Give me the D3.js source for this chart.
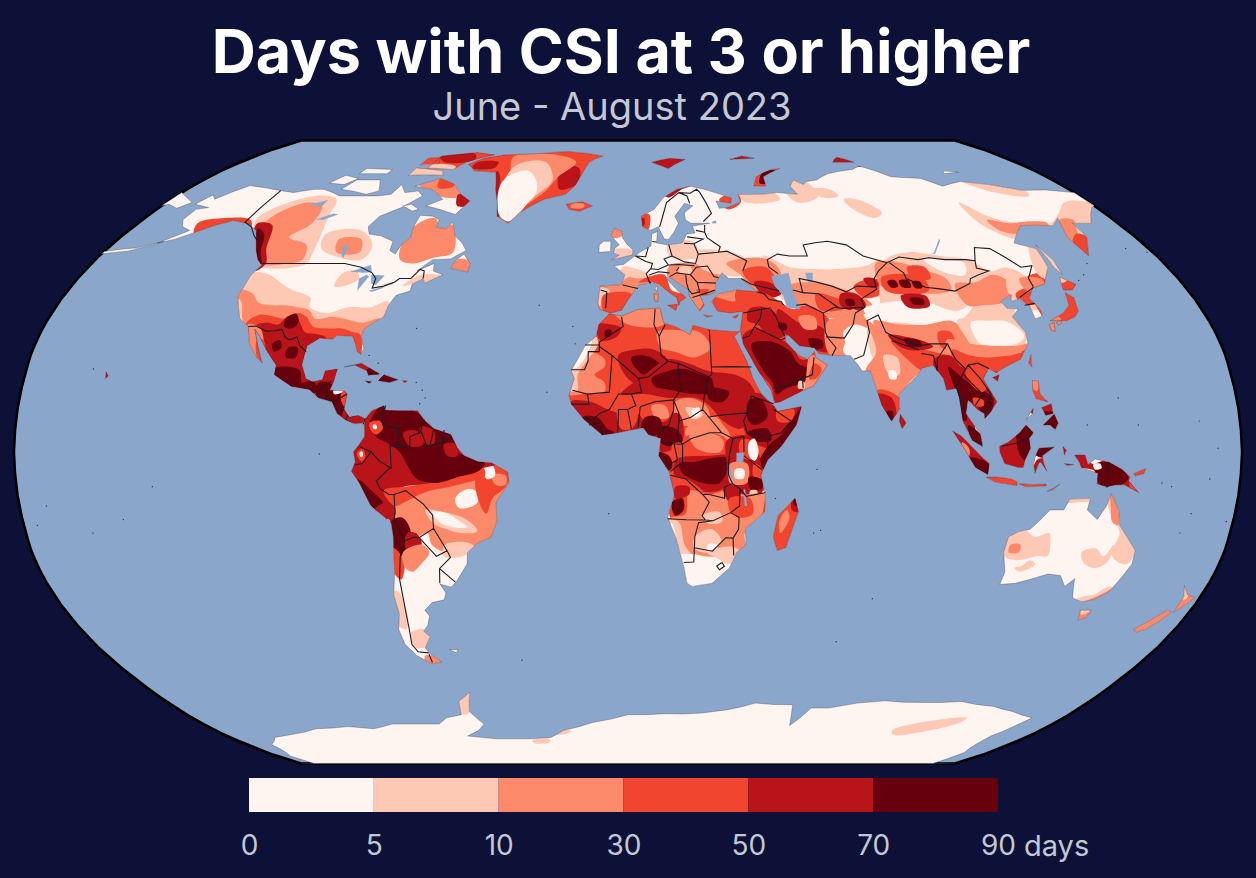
<!DOCTYPE html>
<html>
<head>
<meta charset="utf-8">
<style>
  html, body { margin: 0; background: #0d1137; }
  svg { display: block; }
  text { font-family: "Inter", sans-serif; }
</style>
<script src="https://cdn.jsdelivr.net/npm/d3@7"></script>
</head>
<body>
<svg id="map" width="1256" height="878"></svg>
<script>
// Legend classes
const binEdges = [0, 5, 10, 30, 50, 70, 90];
const binColors = ["#fff5f0", "#fec9b4", "#fc8a6a", "#f24530", "#b91419", "#67000d"];

// Robinson lookup table, every 5 degrees of latitude
const robinsonPlen = [1, .9986, .9954, .99, .9822, .973, .96, .9427, .9216, .8962, .8679, .835, .7986, .7597, .7186, .6732, .6213, .5722, .5322];
const robinsonPdfe = [0, .062, .124, .186, .248, .31, .372, .434, .4958, .5571, .6176, .6769, .7346, .7903, .8435, .8936, .9394, .9761, 1];

// Land outlines, [lon, lat]
const landOutlines = [
  // North and Central America
  [[-168,65.5],[-166,68.3],[-163,67],[-156.5,71.2],[-148,70.4],[-141,69.6],[-135,69],[-128,70],[-124,70],[-115,68],[-108,68],[-100,68],[-95,68.5],[-94,71.5],[-90,69],[-85,69.5],[-82,68],[-87,64.5],[-93,62],[-94.5,59],[-92.5,57],[-88,56.5],[-82.5,55],[-82,52.5],[-79.5,51.5],[-79,54],[-77,56],[-78,59],[-78,62.3],[-73,62],[-70,61],[-69.5,58.8],[-66,58.5],[-64.5,60.3],[-61.5,56.5],[-58,54.5],[-55.7,52.5],[-60,50.2],[-66,50],[-70,47],[-65,49],[-64.5,47],[-61,46],[-66,43.8],[-67,45],[-70,43.5],[-70,41.7],[-74,40.6],[-75.5,38],[-76,35],[-78,33.9],[-81,32],[-81.4,30],[-80,26.8],[-80.5,25.2],[-81.8,26],[-82.8,28],[-84,30],[-89,30.2],[-90,29.2],[-94,29.5],[-97.3,27.5],[-97.8,22.5],[-96,19],[-94,18.2],[-91,18.7],[-90.5,21],[-87,21.5],[-87.7,18],[-88.5,16],[-84,15.8],[-83.2,15],[-83.7,11],[-82,9],[-79.5,9.5],[-77.3,8.6],[-78.2,7.5],[-80.4,7.3],[-83,8.3],[-85.7,10],[-87.5,13],[-91.5,14],[-94.5,16.2],[-100,17],[-105.5,20],[-105.5,22.5],[-109,26],[-112.5,30],[-114.7,31.8],[-112,27],[-109.8,23],[-112,24.8],[-115,28],[-117,32.5],[-120.5,34.5],[-122.5,37.5],[-124.3,40.3],[-124,46],[-122.5,48.5],[-125,50],[-128,52.5],[-130.5,55],[-134,58],[-139,59.8],[-146,60.8],[-151,59.3],[-154,58],[-160,55.5],[-164.5,54.5],[-158,58],[-162,59],[-165,61],[-165,64],[-161,64.5]],
  // Arctic Canada
  [[-80,73.5],[-72,71.5],[-67,68.5],[-62,66.5],[-65,62.5],[-72,64],[-78,65],[-73,67],[-80,70],[-88,71]],
  [[-117,70],[-105,68.5],[-101,69.5],[-105,73],[-115,73]],
  [[-125,72],[-118,71.5],[-115,73.5],[-122,74.5]],
  [[-90,77],[-78,76.5],[-75,79],[-65,82],[-75,83],[-90,81.5]],
  [[-95,74.5],[-80,74.5],[-82,76],[-95,77]],
  [[-117,75],[-105,75],[-105,76.5],[-117,76.8]],
  [[-95,78],[-87,78.5],[-90,81],[-95,80.5]],
  [[-87,65],[-82,63.5],[-80,64],[-84,65.5]],
  [[-59,47.7],[-53,46.7],[-53,49],[-56,51.5],[-58,50]],
  // Greenland, Iceland
  [[-73,78.2],[-68,76],[-58,75.5],[-54,70],[-51,66],[-49,62],[-44,60],[-41,63],[-33,67],[-25,68.5],[-22,71],[-20,75],[-18,79],[-12,81.5],[-30,83.5],[-45,82.5],[-60,82],[-68,80.5]],
  [[-24,65.5],[-18,66.3],[-13.7,65],[-18.5,63.4],[-22.5,64]],
  // Caribbean, Hawaii, Aleutians
  [[-85,22],[-80,23],[-74.2,20.2],[-77.5,19.9],[-78,21],[-82,22.5]],
  [[-74.3,18.5],[-72.8,20],[-68.5,18.7],[-71,18]],
  [[-78.3,18.4],[-76.3,18.2],[-77,17.8]],
  [[-67.2,18.5],[-65.7,18.4],[-66.5,17.9]],
  [[-156,20.8],[-155,19.7],[-155.7,19]],
  [[-179.9,51.6],[-172,52.3],[-165,54.2],[-163,54.9],[-170,53.2],[-179.9,52.2]],
  [[-180,65],[-180,69],[-175,67.5],[-170,66],[-173,64.3],[-178,65.5]],
  // South America
  [[-77.3,8.6],[-75.5,10.7],[-72,12],[-71.5,10.8],[-68,10.7],[-62,10.7],[-60,8.3],[-57,6],[-52,4.5],[-50,1],[-48,-1],[-44,-2.5],[-40,-2.8],[-35.3,-5.2],[-35,-8],[-39,-13],[-39,-18],[-41,-22],[-45,-23.5],[-48.5,-26],[-49,-29],[-53,-33.5],[-55,-35],[-58.3,-34.2],[-57,-36.5],[-58,-38.3],[-62,-39],[-65,-41],[-64,-42.5],[-65.5,-45],[-67.5,-46.5],[-66,-48],[-69,-51],[-68.3,-52.5],[-65.2,-54.8],[-69,-55.3],[-73,-53],[-75.3,-50],[-75.5,-46],[-73.5,-42],[-73.5,-37],[-71.5,-31],[-70.3,-22],[-70.5,-18.3],[-76,-14],[-79,-8],[-81.2,-5],[-80,-2.5],[-80.5,0],[-78.8,2],[-77.3,4],[-77.5,7]],
  [[-61,-51.5],[-58,-51.4],[-59,-52.2]],
  // Africa
  [[-5.9,35.8],[-2,35.2],[3,36.9],[10,37.3],[11,33.5],[15,32.3],[19,30.4],[20,32.8],[25,31.7],[32,31.2],[34.2,31.2],[32.5,29.9],[35.5,24],[37.3,19],[39.5,15],[43.2,11.8],[44,10.5],[51.2,11.8],[49.5,7],[45,1.5],[41,-2],[39,-6],[40.5,-11],[40.5,-15.5],[35,-20],[35.5,-24],[32.8,-26],[31,-30],[26,-34],[20,-34.8],[18.3,-34],[17,-29.5],[14.5,-22.5],[11.8,-17],[13.7,-11],[12,-5],[9,-1],[9.7,3.5],[6,4.5],[4.5,6.3],[-3,5],[-7.5,4.4],[-13,8.5],[-16.8,12.5],[-17.5,14.7],[-16,19],[-17,21],[-13,27.5],[-9.7,30],[-9,33]],
  [[49.3,-12],[50.5,-15.5],[47.5,-24.8],[45,-25.5],[43.5,-22],[44.5,-16.5]],
  // Eurasia
  [[-9,37],[-9.5,38.8],[-9,43],[-2,43.4],[-1,46],[-4.7,48.4],[-1.5,48.7],[1.5,50.5],[4,52],[8,53.7],[8.5,57],[10.6,57.7],[10,54.5],[14,54],[19,54.5],[21,57],[24,57.3],[23.5,59.2],[30,60],[23,60],[21.3,61],[21.3,63],[25,65],[22,65.8],[17.5,62],[18.5,60],[16.5,57.5],[14.3,55.5],[12.8,55.6],[11,59],[8,58],[5.3,59],[5,62],[10,64],[14,67.5],[20,70],[25.8,71],[31,70],[41,67.3],[40,65.8],[34.5,66.5],[35,64.3],[38,64.5],[40,65],[44,66.2],[44,68.4],[54,68.5],[60,69],[68,68.5],[67,71],[70,73],[73,71.5],[75,72.5],[80,73],[87,75],[100,76.5],[105,77.7],[113,74],[125,73.5],[130,71],[140,72.5],[150,71.5],[160,69.7],[170,69.8],[179.9,69],[179.9,65],[178,64.5],[170,60],[163,60],[163,58],[162.5,56],[156.8,51],[155.7,56],[160,61.5],[155,59.3],[143,59.3],[135,54.5],[141,53],[140,48],[135,43.5],[130.5,42.5],[127.5,39.8],[129.3,37],[129,35.2],[126.4,34.5],[126.5,37.5],[124.5,39.8],[121.5,39],[122,40.7],[118,39],[119,37.2],[122.5,37],[119.5,35],[121.8,31],[121.5,28],[118,24],[113,22],[110,20.5],[108,21.6],[105.8,19],[109,13],[107,10.5],[105,8.7],[105,10],[103,11],[100.5,13.5],[99.5,10],[103.5,4.5],[104,1.4],[101,3],[98.5,8],[98,14],[97.5,16.5],[94.5,16],[94,19],[91.5,22.5],[88,21.7],[86.5,20],[80.3,15],[80,11],[77.5,8],[75,12],[73,19],[72.5,21],[70,21],[69,22.5],[67,25],[61.5,25],[57.5,25.5],[56.5,27],[52,27.5],[49,30.3],[48,30],[48,28.5],[50,26.5],[51.5,25],[54,24],[56.3,26],[56.5,24.5],[59.8,22.5],[55,17],[52,16],[45,13],[43.3,12.7],[42.5,16],[39,21],[35,28],[34.8,29.5],[34.5,31.5],[36,36.5],[32,36],[28,36.5],[26.5,39],[29,41],[35,42],[41.5,41.5],[37,45],[33,45],[31,46.5],[28.5,44],[28,41.5],[26,40.8],[23,40.5],[24,38],[22.5,36.5],[19.5,40.5],[19.5,42],[14,45.2],[12.3,45.2],[16,41.8],[18.5,40],[16.5,39],[16,38],[15.5,40],[10.5,43],[8,44],[3.5,43.3],[0,39.5],[-2,36.7],[-5.5,36]],
  // Europe islands
  [[-5.5,50],[1.5,51.3],[1.7,52.7],[-0.2,54],[-2,56],[-2,57.7],[-5,58.6],[-6,56.5],[-3,54],[-4.5,53.2],[-5,51.8],[-3,51.2]],
  [[-10,52],[-6,52.2],[-6,55],[-8.5,55],[-10,54]],
  [[12.5,38],[15.6,38.2],[15,36.7]],
  [[8.3,41],[9.7,41],[9.5,39],[8.5,39]],
  [[8.7,42.5],[9.5,43],[9.3,41.5]],
  [[23.5,35.5],[26.3,35.2],[24.5,34.9]],
  [[32.5,35],[34.5,35.6],[33.5,34.6]],
  // Arctic Russia and Svalbard
  [[11,79],[20,80.5],[27,80],[18,76.8]],
  [[52,71],[57,71],[58,74],[68,76.8],[64,76.5],[55,74]],
  [[95,79],[105,79],[100,81]],
  [[137,75],[145,75.5],[140,76]],
  [[48,80],[60,80.5],[55,81.5]],
  // East Asia islands
  [[142,54],[143.5,50],[143,46],[142,48],[142,52]],
  [[140,42],[141.5,45.4],[145.3,43.5],[143,42]],
  [[130.8,34],[136,36],[139,38],[140,41.3],[141.8,40],[141,36.5],[139,35],[136,34],[132,34]],
  [[130,33],[131.8,33.5],[131,31.2],[130,31.5]],
  [[132.5,33.5],[134.5,34.2],[134,33.5],[133,32.8]],
  [[120.2,23],[121.5,25.2],[121,22]],
  [[108.7,19.3],[110.8,20],[110,18.3]],
  [[79.8,8],[80.2,9.8],[81.8,7.5],[80.5,6]],
  // Indonesia and Philippines
  [[95.3,5.5],[98,4],[104,-1.5],[106,-3],[105.7,-5.8],[102,-4],[98.5,1]],
  [[105.2,-6.5],[108.5,-6.5],[112.7,-7],[114.5,-7.8],[114.4,-8.7],[108,-7.8]],
  [[115,-8.2],[119,-8.4],[123,-8.3],[123,-8.8],[117,-9]],
  [[123.5,-10.2],[127,-8.4],[125,-9.8]],
  [[109,1.5],[111.5,2.5],[115,5],[117,7],[119,5],[117.7,3.5],[118,1],[116.5,-2],[116,-4],[114.5,-4],[110.5,-3],[109,0]],
  [[119.5,-5.5],[120.5,-3],[121,-2.5],[123,-5],[122,-3],[121.5,-1],[125,1.3],[120.5,1],[119.7,-0.5],[119,-3]],
  [[120.4,18.5],[122.2,18.4],[122,15],[124,13],[120.7,13.8],[120,16]],
  [[122,7],[125.5,9.8],[126.5,7.5],[125.5,5.8],[124,7]],
  [[122,11.5],[125,12.5],[125.2,10],[123,9.5]],
  [[117.2,8.4],[119.5,11.3],[119.2,10]],
  [[131,-0.8],[134,-0.8],[135,-3.3],[137,-1.8],[141,-2.6],[145,-4.5],[147.5,-6.5],[147.2,-7.5],[150.5,-10.5],[146,-8.5],[143.5,-8.5],[141,-9],[138,-8.3],[138,-5.5],[133,-4],[132.5,-2.8]],
  [[148.5,-5.6],[152,-4.3],[151.5,-5.6],[149,-6.2]],
  [[127.5,1.5],[128.5,0.5],[128,-0.8]],
  [[128,-3],[130.8,-3.3],[129,-3.5]],
  // Australia, New Zealand
  [[114,-22],[116.8,-20.6],[120,-20],[122.2,-18],[125,-15],[129,-15],[130.5,-12.2],[136.5,-12],[136,-15],[139.5,-17.5],[141.5,-14],[142.5,-10.8],[145.3,-15],[146.5,-19],[150,-22.5],[153,-25.5],[153.5,-29],[150.5,-36],[147,-38.2],[143.5,-38.8],[140,-37.8],[138.5,-35],[137.8,-32.8],[135.7,-34.8],[133,-32],[129,-31.6],[124,-33],[120,-34],[115.3,-34.3],[115.5,-31],[113.5,-26]],
  [[144.7,-41],[148.2,-41],[148,-43],[146,-43.6]],
  [[166.5,-46],[172.5,-41],[174.3,-41.5],[172.8,-43.7],[170.5,-46],[168,-46.8]],
  [[172.7,-34.5],[175.5,-37],[178.5,-37.7],[177,-39.5],[175,-41.6],[174.7,-39],[174.8,-37.5]],
  // Antarctica
  [[-179.9,-90],[-173,-85],[-168,-80],[-160,-77.5],[-150,-76.5],[-135,-74.5],[-120,-73.8],[-110,-74.5],[-100,-73],[-90,-73],[-80,-73],[-75,-71],[-68,-70],[-66,-66],[-60,-63.3],[-62,-66],[-64,-69],[-61,-73],[-65,-75],[-72,-77],[-60,-78],[-45,-78],[-35,-77.5],[-28,-75],[-15,-72.5],[0,-70],[15,-69.7],[30,-69.5],[40,-68.5],[50,-66.5],[65,-67],[69,-73.5],[73,-68],[80,-68],[90,-66.5],[100,-65.8],[115,-66.3],[130,-66],[145,-67.5],[155,-69],[167,-71],[165,-74],[163,-77],[164,-80],[168,-83.5],[179.9,-90]]
];

// Lakes and inland water
const lakes = [
  [[-92,46.8],[-86,48.6],[-84.7,46.7],[-87,46.5]],
  [[-88,45],[-86,46],[-85,45.5],[-87,41.8]],
  [[-84.5,46],[-80,45.8],[-81.7,43.3],[-83.5,43.7]],
  [[-83.4,41.8],[-79,42.9],[-79,42.5],[-82,41.5]],
  [[-79.7,43.3],[-76.3,44],[-76.3,43.5]],
  [[-123,65.5],[-118,66.8],[-118,65],[-122,65]],
  [[-116,61],[-111,62.8],[-109,62.5],[-113,61]],
  [[-99,53.8],[-97,53.8],[-96.5,50.5],[-97.5,51]],
  [[47,45.5],[53,46.5],[53,41],[54,37],[50,37.3],[49.5,40.5],[47.5,43]],
  [[58.5,46.5],[61,46.5],[60,44],[58.5,44]],
  [[103.8,51.6],[105,52],[110,55.8],[109.5,55],[105,51.6]],
  [[31,60.5],[32.5,60.8],[32.5,60],[31,59.9]],
  [[31.8,-0.2],[34,-0.2],[33.8,-2.8],[31.8,-2.6]],
  [[29.3,-3.5],[30,-4],[31,-8.5],[30.2,-7.8]],
  [[34,-9.7],[34.5,-9.7],[35.2,-14],[34.5,-14]]
];

// Heat patches in paint order, [days, outline]
const arcticPatches = [
  [40, [[-75,84],[-5,84],[-10,80],[-18,75],[-20,70],[-32,65],[-42,59],[-50,60],[-56,68],[-60,74],[-72,76]]],
  [60, [[-56,75],[-52,70],[-49,65],[-48,62],[-50,62],[-53,68],[-58,76]]],
  [60, [[-30,77],[-22,77],[-21,72],[-28,70]]],
  [60, [[-70,79],[-60,79],[-60,77],[-70,77]]],
  [20, [[-55,81],[-35,82],[-24,79],[-30,74],[-34,69],[-44,64],[-48,68],[-52,76]]],
  [7, [[-51,78],[-38,79],[-32,73],[-37,68],[-44,62],[-48,66],[-52,72]]],
  [2, [[-53,72],[-50,75],[-44,76],[-39,73],[-37,69],[-39,66],[-41,63],[-44,60.5],[-48,62],[-51,66]]],
  [40, [[-95,84],[-60,84],[-70,79],[-75,77],[-95,77]]],
  [60, [[-90,81],[-75,82.5],[-72,80],[-85,79]]],
  [7, [[-98,77.5],[-78,77.5],[-78,73.8],[-98,73.8]]],
  [20, [[-88,72],[-76,73.5],[-68,71],[-66,68],[-76,68]]],
  [40, [[-80,73.5],[-74,73],[-72,71],[-78,70.5]]],
  [60, [[-68,68.5],[-62,67],[-62,65],[-66,65]]]
];

const americaPatches = [
  [7, [[-138,61],[-125,68],[-115,67],[-112,62],[-108,52],[-108,48.8],[-125,48.8],[-132,56]]],
  [20, [[-133,62],[-125,66],[-118,65],[-116,60],[-120,56],[-112,54],[-110,50],[-114,49],[-123,49],[-128,54],[-133,58]]],
  [60, [[-136,60],[-130,59.5],[-125,53],[-121.5,49],[-124,47],[-128,51],[-134,57]]],
  [80, [[-134,58.5],[-130,57],[-126,52],[-123,49],[-125,49],[-129,53]]],
  [40, [[-158,60],[-150,61.5],[-140,61],[-137,59],[-145,59],[-155,57]]],
  [7, [[-108,57],[-96,58],[-89,54],[-90,50],[-100,51],[-106,53]]],
  [20, [[-102,55.5],[-94,55.5],[-92,52],[-100,52]]],
  [7, [[-94,46.5],[-90,47],[-88,45],[-92,43],[-95,43]]],
  [20, [[-79,54],[-78,59],[-72,61.5],[-68,59],[-64,59.5],[-60,52],[-66,50.5],[-72,49],[-77,50]]],
  [20, [[-60,46.5],[-53,46.5],[-53,49.5],[-58,50]]],
  [7, [[-68,46],[-60,45.5],[-65,43.5],[-70,43.5],[-73,43]]],
  [7, [[-124.5,46.5],[-118,46],[-112,43.5],[-108,42],[-101,40],[-100,37.5],[-94,36],[-88,37.5],[-81,37.5],[-76,39],[-75,35],[-80,30],[-90,28],[-100,26],[-118,30],[-125,40]]],
  [20, [[-125,42],[-120,41],[-117,38.8],[-112,38],[-108,38],[-104,37.5],[-100,36.8],[-97,34.5],[-92,35],[-88,34.5],[-82,33.5],[-77,34.5],[-80,28],[-90,27],[-100,26],[-118,30],[-125,36]]],
  [7, [[-125,40],[-122.5,39],[-120,35],[-119,33],[-122,32],[-126,36]]],
  [40, [[-118,33],[-115,35.5],[-111,35.2],[-106,34.5],[-103,36],[-100,35],[-97,32.5],[-92,32],[-88,32],[-84,31],[-82,30.5],[-80.5,26.5],[-81,24],[-98,24],[-112,27]]],
  [60, [[-115,32.5],[-112,33.5],[-108,33],[-106,35],[-103.5,35.5],[-101,33],[-99,31],[-95,30.5],[-92,29.5],[-95,18],[-105,17],[-110,24]]],
  [60, [[-107,26],[-100,30],[-98,26],[-90,24],[-86,22],[-86,17],[-92,14],[-100,15],[-105,19],[-109,23]]],
  [80, [[-106,34.8],[-103.5,35.8],[-102,33.5],[-103.5,32],[-106,32.5]]],
  [80, [[-108,28],[-106,29],[-105,27],[-107,26]]],
  [80, [[-103,27],[-100,27],[-100,24.5],[-103,24.5]]],
  [80, [[-106,21.5],[-101,22],[-98,21],[-97,18],[-94,18.5],[-92,16],[-94,15],[-100,15.5],[-105,18.5]]],
  [20, [[-117.5,33],[-113,32],[-110,23],[-113,24]]],
  [40, [[-113,29],[-111,29],[-109,23],[-111,23.5]]],
  [60, [[-92,22],[-86,22],[-86,17],[-91,17]]],
  [80, [[-92,18],[-88,17.5],[-87,15],[-83,15.5],[-83,11],[-78,8],[-84,8],[-88,12],[-92,14]]],
  [40, [[-82,17],[-85,15],[-84,12],[-82,11]]],
  [60, [[-86,24],[-73,24],[-73,19],[-86,19]]],
  [80, [[-78,21.5],[-73,21],[-73,17],[-77,17]]],
  [80, [[-75,21],[-68,21],[-68,17],[-75,17]]],
  [60, [[-68,19],[-65,19],[-65,17],[-68,17]]],
  [60, [[-157,21],[-154,21],[-154,18.5],[-157,18.5]]],
  // South America
  [20, [[-70,-16],[-66,-12],[-60,-10],[-55,-8],[-45,-5],[-36,-3],[-33,-8],[-38,-15],[-39,-21],[-46,-24.5],[-50,-25.5],[-55,-26],[-59,-24],[-60,-21],[-63,-22],[-66,-23],[-68,-20]]],
  [7, [[-55,-24],[-48,-23.5],[-46,-25],[-50,-27],[-56,-27]]],
  [7, [[-60,-15],[-55,-15.5],[-48,-17.5],[-45,-20.5],[-50,-21],[-54,-20],[-58,-18.5]]],
  [2, [[-58,-15.5],[-54,-15.8],[-50,-18],[-48,-19.5],[-52,-19.5],[-56,-18.2]]],
  [2, [[-51,-12],[-47,-9.5],[-43.5,-11],[-45,-13.5],[-50,-14.5]]],
  [40, [[-44.5,-6],[-38,-3.5],[-34.5,-5.5],[-36,-9],[-40,-12],[-42,-16],[-44,-13]]],
  [20, [[-40,-6],[-36,-6],[-36,-8.5],[-39,-8.5]]],
  [2, [[-42.5,-3.5],[-40,-3.2],[-39,-6],[-41.5,-7]]],
  [60, [[-83,12],[-60,11],[-50,5],[-45,-1],[-38,-3],[-44,-4.5],[-52,-7],[-60,-8.5],[-66,-9],[-69,-11],[-69,-15],[-70,-19],[-72,-16],[-76,-14],[-82,-5]]],
  [40, [[-72,-10],[-66,-9],[-58,-8],[-50,-6.5],[-43,-3.5],[-42,-6],[-50,-8.5],[-60,-10.5],[-66,-13],[-69,-14]]],
  [80, [[-72,12.5],[-64,11],[-60,9],[-55,6],[-51,4],[-50,0],[-45,-1.5],[-42,-3],[-44,-5],[-50,-6.5],[-56,-8],[-62,-7],[-65,-3],[-67,0],[-70,2],[-74,4],[-76,7]]],
  [60, [[-66,5],[-62,5.5],[-60,2],[-64,1.5]]],
  [60, [[-61,6.5],[-57,5.5],[-57,2],[-60,2.5]]],
  [60, [[-54,2],[-50,2],[-50,-1],[-53,-1]]],
  [40, [[-76,7.5],[-73,8],[-72,6],[-74,4.5],[-75.5,5.5]]],
  [2, [[-75,7],[-74,7],[-73.8,6],[-74.8,6]]],
  [40, [[-79.5,-0.5],[-78,0.8],[-77,-1],[-78,-2.5]]],
  [2, [[-78.7,-0.2],[-78,0.2],[-77.7,-1],[-78.4,-1.3]]],
  [80, [[-79.5,-7],[-75.5,-10],[-72,-14],[-74,-15.5],[-78,-11]]],
  [60, [[-75,-15],[-71,-13],[-69,-16],[-71,-17.5]]],
  [80, [[-70.5,-18],[-67,-17],[-65,-20],[-66,-25],[-68,-28],[-71,-24]]],
  [60, [[-66,-21],[-63.5,-21],[-62,-24],[-65,-26],[-67,-25]]],
  [40, [[-72,-24],[-68,-28],[-70,-33],[-72,-31]]],
  [20, [[-68,-26],[-62,-24],[-60,-26],[-63,-29],[-66,-31],[-68,-30]]],
  [7, [[-75,-37],[-72,-36],[-71,-42],[-73,-46],[-76,-44]]],
  [7, [[-72,-47],[-67,-46],[-67,-50],[-72,-51]]],
  [20, [[-70,-53],[-65,-54],[-66,-55.5],[-71,-55]]]
];

const africaPatches = [
  [40, [[-18,37],[37,37],[52,13],[42,-2],[40,-10],[30,-11],[10,-10],[8,5],[-18,12]]],
  [20, [[-10,38],[12,38],[11,33],[0,33],[-5,36]]],
  [20, [[9,31],[17,31.5],[22,31],[25,27],[20,24.5],[14,26],[10,27]]],
  [20, [[-16,24],[-12,26],[-7,24],[-7,22],[-10,20],[-7,18],[-7,15.5],[-13,15],[-18,15],[-18,20]]],
  [7, [[-18,21.5],[-14,27],[-10,30],[-9,28],[-12,24],[-15,20],[-15,16],[-18,16]]],
  [2, [[-18,21.5],[-13.5,27.5],[-11,29],[-12,26],[-15,22]]],
  [60, [[-9.5,33],[-5,33],[-2,32],[-4,29.5],[-8.5,29]]],
  [80, [[-7,31.5],[-5,31.5],[-5.5,30],[-7,30]]],
  [60, [[-3,25],[2,26.5],[8,26.5],[13,23],[14,20],[5,17],[0,19]]],
  [80, [[1,24.5],[5,25],[8,24],[10,22],[5,20],[2,22]]],
  [60, [[5,20],[12,24],[18,23],[24,21],[32,20],[36,18],[38,14],[36,9],[33,6],[28,8],[24,12],[20,14],[12,14],[5,15],[-2,15]]],
  [80, [[7,19],[12,21],[17,21.5],[22,20],[25,19],[25,15.5],[20,15],[13,16],[8,17]]],
  [80, [[24,16.5],[30,15.5],[28,13],[24,13.5]]],
  [20, [[14,13],[18,14],[23,12],[24,9],[20,7],[16,7],[14,9]]],
  [7, [[17,11.5],[21,11],[22,9.5],[19,8.5]]],
  [2, [[19,11],[21,11.5],[21,9.5],[19,9]]],
  [20, [[22,9],[26,9],[28,7],[30,4],[27,2],[20,1],[17,4],[17,6]]],
  [60, [[-17,13],[-11,13],[-6,11],[-2,10],[3,10],[5,8],[10,9],[15,10],[16,3],[10,0],[6,4],[-3,4],[-8,4],[-14,8]]],
  [40, [[-3,12],[1,13],[3,10],[1,6],[-2,6]]],
  [40, [[3,13],[9,13],[13,11],[11,8],[6,9]]],
  [20, [[7,12],[11,12],[12,9],[8,9]]],
  [80, [[-13.5,9],[-9,9],[-6,6],[-4,5],[-7,3.5],[-11,6]]],
  [80, [[5,9],[9,9],[10,6],[7,4],[4,6]]],
  [80, [[9,6.5],[14,6],[16,3],[12,1.5],[9,3]]],
  [80, [[8,0],[12,-1],[13,-4],[11,-5],[8,-2]]],
  [40, [[13,2],[17,2],[17,-2],[14,-3]]],
  [40, [[17,4],[28,4],[31,-2],[28,-2],[18,-1]]],
  [20, [[18,5],[24,5],[28,3],[27,0],[20,1]]],
  [60, [[14,-2],[24,-1],[30,-1],[30,-7],[27,-10],[20,-10],[14,-7]]],
  [80, [[15,-3],[20,-2.5],[25,-1.5],[29,-1.5],[29,-5],[27,-8],[22,-8],[16,-5.5]]],
  // East Africa
  [60, [[34,14.5],[40,15],[43,12],[51,12.5],[47,6],[42,1],[36,3],[34,6]]],
  [80, [[36,13.5],[39.5,13.5],[41,9],[37,7],[35,9]]],
  [80, [[35,5],[41,6],[42,3],[37,3]]],
  [40, [[44,11],[49,11],[48,8],[44,8]]],
  [80, [[51.5,12],[49,5],[43,-2],[40,-4.5],[38.5,-3],[41,1.5],[45,4.5],[48,8]]],
  [60, [[29,3],[36,4],[39,-3],[39,-11],[30,-11],[29,-3]]],
  [40, [[33,3],[36,3],[36,-2],[33,-1]]],
  [2, [[35.5,2.5],[37,3.5],[38.3,0],[37.2,-2.3],[35.5,-1]]],
  [40, [[37,-3],[39,-4],[39,-7],[37,-7]]],
  [20, [[30,-3],[35,-3],[35,-8],[30,-8]]],
  [2, [[31.5,-4.5],[34,-4.5],[34,-6.8],[31.5,-6.8]]],
  [80, [[35.5,-6.5],[39,-7],[39.5,-9.5],[36,-9.5]]],
  [7, [[36,-10],[38,-10],[38,-11.5],[36,-11.5]]],
  // Southern Africa
  [40, [[10,-6],[17,-7],[22,-10],[24,-13],[22,-17],[13,-17.5],[12,-10]]],
  [20, [[18,-10],[24,-11],[29,-10],[34,-11],[41,-11],[41,-16],[35,-21],[35.5,-25],[32,-27],[22,-27],[14,-27],[12,-17.5],[17,-16]]],
  [60, [[28,-9],[32,-9],[33,-12],[30,-13]]],
  [40, [[30,-12],[36,-12],[37,-16],[33,-17],[30,-15]]],
  [80, [[13,-13],[16,-12],[16.5,-15],[14,-16.5]]],
  [60, [[14,-9],[18,-9],[18,-11],[14,-12]]],
  [7, [[22,-16.5],[27,-15.5],[28,-18],[24,-18.5]]],
  [7, [[20,-22],[25,-20],[28,-23],[24,-26],[20,-25]]],
  [2, [[24,-24],[27,-24],[26,-26],[24,-26]]],
  [7, [[11,-18],[15,-18],[17,-24],[20,-28],[16,-30],[14,-24]]],
  [2, [[11,-19],[13,-18.5],[15,-24],[17,-29],[16,-30],[14,-24]]],
  [2, [[15,-27],[20,-26.5],[26,-27.5],[30,-26],[34,-27],[33,-32],[26,-36],[17,-36]]],
  [7, [[24,-26],[31,-24.5],[34,-26],[31,-29],[27,-27.5]]],
  [40, [[42,-27],[52,-27],[53,-10],[42,-10]]],
  [20, [[45.5,-21],[48,-17],[47,-15],[45,-18]]],
  [60, [[48.5,-15],[51,-15.5],[50,-11],[48.5,-12]]],
  [80, [[49,-13.5],[50,-14],[49.6,-11.8],[49,-12]]]
];

const eurasiaPatches = [
  // Europe
  [20, [[-10,44],[3,43.5],[4,41],[0,38],[-6,35.5],[-10,36.5]]],
  [7, [[-10,42.5],[-6,42],[-7,38.5],[-10,38]]],
  [40, [[-8,40.5],[-3,41.5],[1,41],[0,38],[-2,36.5],[-6,35.5],[-8,37]]],
  [7, [[-2,48],[3,47.5],[7,46],[8,44],[3,43],[-2,43.5]]],
  [20, [[0,45.3],[3,45],[6,45],[7,44],[3,43],[-2,43.5]]],
  [40, [[3.5,44],[7,45.5],[12,46],[14,42],[18,40.5],[17,38],[15,37],[12,42],[8,44]]],
  [20, [[8,41.5],[10,41.5],[10,38.5],[8,38.5]]],
  [40, [[12,38.5],[16,38.5],[16,36.5],[12,36.5]]],
  [7, [[14,54.5],[23,54.8],[24,51],[18,50],[14,51]]],
  [20, [[14,48.5],[22,49],[30,47],[29.5,44],[26,41],[21,36],[19,41],[13,45]]],
  [7, [[17,48],[21,48],[21,46.5],[17,46.5]]],
  [7, [[22,52],[32,52.5],[40,50],[38,46],[30,46],[24,48]]],
  [40, [[22,42],[27,42],[28,41],[24,40.5]]],
  [20, [[26,42],[36,42.5],[44,41.5],[44,37],[36,36],[27,36]]],
  [40, [[27,40],[33,39],[39,39],[42,37],[36,36],[28,36.5]]],
  [20, [[5,63],[9,64],[13,67],[18,69.5],[15,70],[8,65],[4,60]]],
  [40, [[4,62.5],[8,62.5],[8,59.5],[7,58],[4,58.5]]],
  [60, [[4,61],[6,61.5],[6,59.5],[4,59]]],
  [60, [[14,69],[22,71.5],[28,71.5],[22,70],[16,67.5]]],
  [7, [[-6,52.5],[1.8,52.5],[1.8,50.5],[-6,50]]],
  [20, [[-7,59],[-2,59],[-2,56.5],[-6,56]]],
  [40, [[-25,67],[-13,67],[-13,63],[-25,63]]],
  [20, [[-22,65.5],[-17,65.5],[-17,64.5],[-22,64.5]]],
  [60, [[10,81],[28,81],[28,76],[10,76]]],
  [40, [[50,75],[70,78],[70,73],[58,70],[50,70]]],
  [80, [[55,72],[59,72],[65,76],[60,76]]],
  [60, [[45,82],[65,82],[65,79],[45,79]]],
  [60, [[93,82],[108,82],[108,78],[93,78]]],
  [7, [[64,72],[74,73],[76,68],[66,66]]],
  [7, [[44,69],[58,69.5],[60,67],[46,66]]],
  [40, [[36,67],[44,68.5],[44,66],[38,64]]],
  // Caucasus, Central Asia
  [7, [[46,51],[54,48],[62,47.5],[70,47.5],[80,48.5],[85,50],[85,42],[70,39],[60,38],[52,38],[47,42]]],
  [20, [[33,49],[45,50.5],[50,48],[50,44],[46,41],[40,42],[37,46]]],
  [40, [[38,47],[46,48],[48,45],[46,42],[41,43]]],
  [60, [[41,44],[46,44],[49,41],[44,40]]],
  [20, [[52,43],[60,44],[68,42.5],[73,41],[77,38],[72,35],[60,35],[53,37]]],
  [40, [[60,41],[66,40],[70,38],[65,36.5],[60,37]]],
  [60, [[68,41],[73,41],[75,38],[71,36.5],[67,38]]],
  [80, [[69,39.5],[71.5,39.5],[71.5,38],[69,38]]],
  [40, [[73,43],[80,45],[83,44],[81,41],[75,40]]],
  [60, [[77,45],[80.5,45],[81,43],[78,42.8]]],
  // Middle East
  [40, [[35,42],[44,41],[48,39],[52,37],[56,38],[61,36],[64,30],[62,25],[50,13],[43,12],[37,20],[34,30],[34,37]]],
  [60, [[38,37],[43,37.5],[47,35],[48,30.5],[44,29],[40,33],[37,34]]],
  [60, [[47,37],[53,33.5],[58,33],[62,30],[61,26],[56,26.5],[52,27.5],[49,30],[46.5,32]]],
  [20, [[53,35],[58,35],[58,32],[54,32]]],
  [80, [[46.5,33.5],[49,33],[48.5,31.5],[46.5,32]]],
  [80, [[55,29.3],[59,29],[59,27],[55.8,26.8]]],
  [60, [[35,30],[39,32],[46,29.5],[50,27],[52,24],[56.5,24],[53,19],[52,15.5],[44,12.5],[42.5,17],[38,22]]],
  [80, [[37.5,28],[44,28.5],[49,26],[51,23],[55,21],[52,18],[47,16.5],[44,15],[43,18],[40.5,21]]],
  [20, [[55,25],[60,22.5],[55,16.5],[52,16],[53,19]]],
  [40, [[56,23],[58,21.5],[56,19],[54,19]]],
  [7, [[51,18.5],[52.5,18],[52.5,16.5],[50.5,16.5]]],
  // Pakistan, India
  [20, [[62,34],[66,35],[71,37],[74,34],[72,30],[66,25],[61,25],[60,30]]],
  [2, [[66,31],[70,33],[74,31.5],[74.5,27],[74,23],[71,21.5],[68,23.5],[65,26],[66,28.5]]],
  [7, [[74,32.5],[76.5,31],[76,27],[74,24],[73,28]]],
  [20, [[74,34],[77,32],[80,29],[88,26],[92,26],[92,22],[88,21],[82,16],[81,11],[77,7.5],[72,16],[71,21],[75,26]]],
  [7, [[77,25],[81,24.5],[81,20],[78,20]]],
  [2, [[78,21],[80,21],[80,19],[78,19]]],
  [40, [[80,29],[88,27.5],[97,29],[98,22],[92,20.5],[88,21],[84,24]]],
  [40, [[81,13],[78,15.5],[74,16],[76,7.5],[79,7.5]]],
  [60, [[74,15],[78,14],[79,10],[77.5,7.5],[75.5,9]]],
  [80, [[76.2,10.5],[78,10.5],[77.8,8],[76.8,8]]],
  [60, [[79,10],[82,10],[82,5.5],[79,5.5]]],
  // China, Mongolia, Tibet
  [7, [[80,40],[87,50],[96,52],[106,51],[115,50],[120,47],[126,48],[131,45],[131,41],[122,38],[120,33],[100,33],[80,33]]],
  [2, [[100,50],[108,50],[113,49],[111,46],[105,46.5]]],
  [2, [[74,37],[84,39],[95,38.5],[103,36.5],[110,39],[101,33],[85,33.5],[76,34]]],
  [20, [[83,49],[90,49.5],[97,47.5],[104,45],[104,42],[96,41],[88,42.5],[82,43]]],
  [40, [[93,48],[99,48],[99,45],[93,45]]],
  [40, [[83,45.3],[96.5,45.3],[96.5,41.7],[83,41.7]]],
  [80, [[84.5,44.3],[87,44.6],[87.4,43],[85,42.6]]],
  [80, [[88.3,44.4],[91.5,44.5],[91.5,42.8],[88.5,42.8]]],
  [80, [[92.5,44.2],[95,44.2],[95,42.6],[92.5,42.6]]],
  [60, [[87,40.5],[95,40.5],[95,37.8],[88,37.5]]],
  [80, [[89.5,39.8],[93.5,39.8],[93.5,38.3],[90,38.3]]],
  [20, [[106,43.5],[113,44],[120,46],[124,44],[122,40],[118,38.5],[112,38],[107,38]]],
  [7, [[124,45],[129,45],[131,42],[126,41],[122,41]]],
  [20, [[76,34],[84,33],[92,33],[100,34],[103,32],[105,29],[104,25],[98,25],[88,27],[78,30]]],
  [40, [[95,31],[99,31],[99,27],[95,27]]],
  [2, [[83,36],[89,35.5],[96,36],[94,33.5],[86,33.5]]],
  [7, [[102,34],[108,35],[114,36],[120,34.5],[122,31],[120,27.5],[112,27],[105,27],[103,30]]],
  [2, [[106,33.5],[112,34],[118,33.5],[121,30],[118,28],[112,27.5],[107,28]]],
  [20, [[97,29],[104,28],[110,27.5],[118,27.5],[122,28],[118,22],[108,19],[98,21]]],
  [40, [[98,26.5],[103,25],[108,24.5],[115,25],[119,25.5],[118,23],[113,21],[108,20],[102,19],[98,22]]],
  [60, [[79.5,30.3],[84,30],[90,28.7],[92.5,27.3],[88,26.3],[83,27]]],
  [80, [[84,29.3],[89,28.7],[89,27.3],[85,27.6]]],
  [60, [[108,20.5],[111,20.5],[111,18],[108,18]]],
  // Southeast Asia
  [60, [[92,24],[97,25],[100,22],[105,21],[110,15],[108,9],[103,8],[101,5],[97,9],[97,15],[93,16]]],
  [80, [[96,22],[100,19],[103,17],[108,14],[107,10.5],[105,8.5],[103,12],[100.5,13],[99.5,8],[97,9.5],[97,16]]],
  [40, [[101,21],[106,22],[107.5,18],[105,15.5],[102,17.5]]],
  [40, [[102,14],[105,13.5],[105,12],[102.5,12]]],
  [80, [[100,7],[104,4],[104.5,1],[101,2.5]]],
  // Korea, Japan, Far East
  [40, [[124,41],[130,42.5],[129,38],[125,37]]],
  [7, [[125.5,37.5],[130,38],[130,34],[125.5,34]]],
  [2, [[126.5,36.5],[129,36.5],[128.5,34.5],[126.5,34.5]]],
  [40, [[130,45],[146,46],[146,41],[142,35],[136,32],[129,30],[129,34]]],
  [20, [[129,35],[134,35],[134,32],[129,30]]],
  [7, [[135,46],[142,56],[146,56],[146,47],[142,44]]],
  [20, [[128,45],[135,45],[135,42],[128,42]]],
  [40, [[119,26],[123,26],[123,21.5],[119,21.5]]],
  [7, [[129,66],[135,62],[140,60.5],[155,60],[163,63],[170,66],[179.9,66],[179.9,63],[170,59],[160,57],[150,57],[140,55],[135,56],[129,60]]],
  [20, [[133,61],[140,60],[147,60.5],[154,60],[152,58.5],[140,57],[134,58]]],
  [20, [[155,52],[163,59],[165,61],[160,61],[154,57]]],
  [40, [[156,50.5],[163,56],[160,57],[155,54]]],
  [7, [[140,73],[150,72.5],[162,71],[160,68],[148,69]]],
  [7, [[85,67],[90,67],[96,63],[92,61.5],[86,64]]],
  [7, [[75,70],[82,70],[84,68],[77,67.5]]]
];

const oceaniaPatches = [
  // Islands
  [60, [[95,6],[99,4.5],[104,-1],[106.5,-3],[106,-6.5],[101,-4.5],[97,0]]],
  [80, [[100,-1.5],[104,-2],[106.5,-4],[106,-6],[102,-4.5]]],
  [20, [[98,2.5],[100,1],[100,-1],[98,0]]],
  [40, [[105,-6],[113,-6.5],[123,-7.8],[127.5,-8],[125,-10.5],[115,-9.5],[105,-8]]],
  [60, [[108.5,3],[115,7.5],[120,6],[119,0],[116,-5],[110,-4],[108.5,0]]],
  [80, [[114,5],[118,7],[119,5],[118.5,1],[116.3,-2],[114.5,0],[114,3]]],
  [80, [[119,-1],[122,-1.5],[125.5,1.8],[121,2],[118.7,-3]]],
  [60, [[119,-6],[124,-6],[123,-2],[120,-2]]],
  [40, [[119.5,19],[123,19],[124.5,12.5],[120,13]]],
  [20, [[120.4,18.5],[122,18.5],[121.5,16],[120.5,16]]],
  [60, [[117,12],[126,13],[127,9],[121,9]]],
  [80, [[121,9.8],[127,10],[127,5],[121,5]]],
  [60, [[127,2],[131,2],[131,-4],[127,-4]]],
  [60, [[130.5,0],[135,0],[136,-3],[141,-2],[147,-5],[151,-11],[143,-10],[137,-9],[137,-5],[131,-3.5]]],
  [80, [[137.5,-3],[143,-3],[146,-5],[147,-7],[144,-9],[141,-9.5],[138,-7.5]]],
  [2, [[136.5,-3.2],[138.5,-3],[139,-4.2],[137,-4.5]]],
  [40, [[147.5,-8],[149,-8],[151,-10.8],[149,-11]]],
  [40, [[147,-4],[153,-3],[153,-6.5],[148,-7]]],
  // Australia
  [7, [[141,-10],[146,-13],[150,-20],[153,-24],[152,-29],[148,-28],[146,-26],[147,-21],[144,-17],[143,-16],[142,-14]]],
  [20, [[142,-10],[145,-14.5],[146,-19],[144,-18],[143,-15]]],
  [7, [[130,-10],[137,-10],[137,-12.5],[133,-13],[130,-13]]],
  [7, [[113,-24],[118,-20],[122,-22],[126,-21],[127,-24],[127,-27],[124,-27],[118,-28],[114,-27]]],
  [20, [[115,-24],[118,-24],[118,-26],[115,-26]]],
  [7, [[118,-30],[120,-29.5],[122,-28],[124,-29],[120,-31]]],
  [7, [[137,-26],[141,-25],[144,-27],[146,-24],[146,-28],[143,-30],[139,-29]]],
  [7, [[140,-39],[150,-39],[151,-35],[149,-35],[146,-37],[143,-37.5]]],
  [20, [[144,-39],[149,-39],[151,-35],[149,-36.5],[146,-38]]],
  [20, [[143,-40],[149,-40],[149,-45],[143,-45]]],
  [7, [[145,-40.5],[148,-40.5],[147,-42],[145.5,-42]]],
  [20, [[165,-48],[179.9,-48],[179.9,-33],[172,-33],[172,-40]]],
  [7, [[172,-34],[175,-36],[176,-38],[174,-38]]],
  // Antarctica
  [7, [[-70,-68],[-62,-63],[-60,-66],[-66,-70]]],
  [7, [[-44,-78.5],[-36,-78],[-36,-79],[-44,-79.5]]],
  [7, [[-32,-76.5],[-25,-75.5],[-28,-74],[-34,-75]]],
  [7, [[115,-75],[140,-71],[140,-72.5],[118,-76.5]]]
];

// Country borders as polylines
const borderLines = [
  [[-141,69.6],[-141,60.3],[-137,59],[-133,56.5],[-130,55]],
  [[-123,49],[-117,49],[-110,49],[-102,49],[-95,49],[-89,48],[-84.5,46.5],[-82.5,45],[-82.5,42.5],[-79,43],[-76,44],[-74.7,45],[-71,45],[-69,47.4],[-67.5,47],[-67,45]],
  [[-117,32.5],[-114.7,32.6],[-111,31.3],[-108.2,31.4],[-106.4,31.8],[-104.5,29.6],[-103,29],[-101,29.8],[-99.5,27.5],[-97.2,26]],
  [[-92.2,14.6],[-91,17],[-89.2,17.8],[-88.3,18.4]],
  [[-89.2,15.9],[-89.4,14],[-87.7,13.2]],
  [[-83.2,15],[-87,13]],
  [[-83.7,11],[-85.7,11]],
  [[-82.6,9.5],[-83,8.3]],
  [[-77.3,8.6],[-77.9,7.2]],
  // South America
  [[-71.5,12],[-72.5,9],[-72,7],[-67.5,6.2],[-67.5,2],[-67,1.2],[-69.8,1.7],[-69.5,-4.2],[-73,-2.3],[-75.3,0],[-78.8,1.4]],
  [[-75.3,0],[-78,-3],[-80.3,-3.4]],
  [[-60,8.5],[-61,5],[-60.7,5.2],[-64,4],[-64,1.5],[-67,1.2]],
  [[-60.7,5.2],[-59,1.5],[-57,2],[-54.5,2.3],[-51.7,4]],
  [[-57,6],[-58,2]],
  [[-54,5.7],[-54.5,2.3]],
  [[-69.9,-4.2],[-74,-7.5],[-73,-9.5],[-70.5,-11],[-69,-11],[-69,-15.5],[-69.5,-17.5],[-68,-21],[-67,-23],[-69,-27],[-70.5,-33],[-71,-40],[-72,-46],[-73,-50],[-72,-52],[-68.5,-52.3]],
  [[-68.6,-52.7],[-68.6,-54.9]],
  [[-69,-11],[-65.5,-10],[-60.5,-13.5],[-58,-16.3],[-58,-19.8],[-62.6,-22.2],[-64,-22],[-67,-23]],
  [[-62.6,-22.2],[-58,-27],[-54.6,-25.6],[-55.5,-24],[-58,-19.8]],
  [[-54.6,-25.6],[-53.8,-27.3],[-57.6,-30.2],[-58.3,-34]],
  [[-57.6,-30.2],[-53.4,-33.7]],
  // Africa
  [[-2,35],[-1.5,32.5],[-8.7,28.5],[-8.7,26],[-12,26],[-12,23.5],[-13,21.3],[-17,21.3]],
  [[-8.7,27.7],[-13,27.7]],
  [[-8.7,27.3],[-4.8,25],[3.2,19],[6,19.4],[12,23.5],[10,25],[9.5,30],[8,33],[8.5,37]],
  [[9.5,30],[11.5,33]],
  [[12,23.5],[15,23],[24,19.5],[25,20],[25,31.7]],
  [[25,22],[37,22]],
  [[-4.8,25],[-5.5,15.5],[-12,15],[-16.5,16]],
  [[-12,15],[-11.5,12.4],[-16.7,12.4]],
  [[3.2,19],[4,15.5],[1,15],[-2.8,15],[-5.5,11],[-8,10.2],[-10.5,8.3],[-13.3,9]],
  [[1,15],[2.3,12],[-0.2,11],[-2.8,11],[-3,5]],
  [[3.6,11.7],[8,13],[13.5,13.5],[15.5,16],[15,23]],
  [[3,6.4],[3.6,11.7]],
  [[1,6],[-0.1,11]],
  [[-7.5,4.4],[-8.5,7.5],[-11.5,7]],
  [[8.6,4.7],[12,7],[13.5,11],[13.5,13.5],[15,10],[15,8],[18.5,9],[22,11],[22.5,14],[24,19.5]],
  [[22,11],[27.5,5],[24,5],[18.6,3.5],[16,2],[14.5,4],[15,8]],
  [[10,2.2],[16,2]],
  [[16,2],[16,-2.5],[12.5,-5]],
  [[11,-3.8],[14.5,-2],[13.5,2.2]],
  [[23.5,9],[27,9.5],[33,10],[35,10]],
  [[36.5,14.5],[35,10],[34,8],[35,5],[41,4],[45,5],[48,8],[43,11]],
  [[36.5,14.5],[43,12.5]],
  [[41,4],[41,-1.7]],
  [[34,4],[34,0]],
  [[34,-1],[39.5,-4.7]],
  [[27.5,5],[30.8,3.5],[34,4]],
  [[30.8,3.5],[29.7,-1],[29.5,-3],[29.5,-6],[30.8,-8.2],[28.5,-9],[28.5,-12],[24,-11],[22,-11],[17,-7],[12.5,-6]],
  [[22,-11],[24,-13],[22,-16.5],[23,-17.6],[11.8,-17.3]],
  [[23,-17.6],[25.3,-17.8],[30.4,-15.7],[33,-14],[33,-9.5],[30.8,-8.2]],
  [[33,-9.5],[34.9,-11.5],[40.5,-10.5]],
  [[17,-28.6],[20,-28.5],[20,-24.8],[20,-22],[21,-18.3],[25.3,-17.8]],
  [[20,-24.8],[25.5,-25.7],[29.3,-22.2],[31.5,-22.3],[32,-26.8]],
  [[30.4,-15.7],[33,-17],[33,-20],[31.5,-22.3]],
  [[27,-29.5],[28.6,-28.6],[29.4,-29.6],[28,-30.5],[27,-29.5]],
  // Europe
  [[-1.7,43.3],[3.2,42.4]],
  [[-8.8,42],[-6.8,41.5],[-7,37.2]],
  [[2.5,51],[6,49.5],[8.2,49],[7.6,47.6],[6,46.3],[7,44],[7.5,43.8]],
  [[7,53.3],[6,50.8],[2.5,51]],
  [[8.5,54.9],[10,54.8]],
  [[14.2,54],[15,51],[12.2,50.2],[13.5,48.6],[10,47.4],[7.6,47.6]],
  [[19.6,54.4],[23,54.3],[24,51.5],[22.7,49],[19,49.4],[15,51]],
  [[13.5,48.6],[17,48.7],[22.2,48.4]],
  [[7,45.9],[10,46.8],[13.7,46.5]],
  [[16,47],[17,48]],
  [[22.8,48],[20.5,46],[16,46.5],[13.7,45.5]],
  [[19,45.9],[19,44],[19.5,42]],
  [[20.5,46],[22.5,44],[23,41.5],[20.5,41],[19.5,42]],
  [[22.5,44],[28.5,43.8]],
  [[22.8,48],[26.5,48.3],[28.2,45.5],[29.7,45.2]],
  [[20.5,40],[26.3,41.5],[28,42]],
  [[24,51.5],[31,52],[34,52.3],[40,49.7],[38,47]],
  [[31,52],[32,53.5],[28,56],[27.5,57.5],[28,59.5]],
  [[21,56.2],[26.5,55.6],[23,54.3]],
  [[24.5,58],[27.5,57.5]],
  [[27.8,60.5],[31.5,62.8],[29,69],[28,70],[25,68.8],[20.5,69],[15,66],[12.5,61],[11.5,59]],
  [[24,65.8],[23.5,68],[20.5,69]],
  // Russia and Central Asia
  [[49.5,46.3],[47,48],[47,50],[51,51.5],[55,51],[61,51],[61,54],[70,55],[76,54],[80,51],[87,49.2],[92,50.7],[98,50],[102,50.5],[107,50],[114,50],[117,49.7],[120,53.3],[125,53],[131,48],[135,48.4],[131,45],[131,43],[130.6,42.5]],
  [[87.8,49.2],[91,46.5],[91,45],[96,42.7],[105,41.7],[111,43.7],[112,45],[119.5,47],[116,47.8],[117,49.7]],
  [[87,49.2],[83,47],[80.5,45],[80,42.2],[74,39.6],[74.5,37.5],[67.5,37.2],[65,37.5],[61,36],[56,38.3],[53,38]],
  [[80,42.8],[74,43],[70,41.5],[66,43],[56,45],[56,41.3],[53,42]],
  [[56,41.3],[61,41],[66,37.5]],
  [[61,36],[60.5,31],[61,29.5],[63,27],[61.5,25]],
  [[60.5,29.8],[66,29.5],[69.5,33],[71,36],[74.5,37.5]],
  [[68,24],[71,25],[74,31],[74,34],[78,35.5],[79,31],[81,30],[88,27.5],[92,28],[97,28],[93,24],[92.5,21]],
  [[80.3,28.8],[88,26.5]],
  [[88.5,25.5],[92,25],[92.5,21]],
  [[97,28],[98.5,24],[101,21.5],[100,20.3],[102,18],[105,15],[102.5,12]],
  [[101,21.5],[102,22.5],[105,23],[108,21.6]],
  [[102,22.5],[105,19],[107.5,15],[106,11],[104.5,10.5]],
  [[100,20.3],[97.5,17],[99,11]],
  [[100,6.5],[102,6]],
  // Middle East
  [[44.8,37],[46,35],[47.8,30]],
  [[36,36],[42,37],[44.8,37.3]],
  [[42,37],[41,34.5],[39,32.5],[37,30],[35,29.5]],
  [[39,32.3],[46.5,29],[48,29.5]],
  [[43,16.5],[47,17],[52,19],[55,20],[56,24.5]],
  [[52,16.5],[52,19]],
  [[41.5,41.5],[43.5,41],[44.8,39.5],[48.5,39],[49,38]],
  [[37,45],[40,43.5],[45,42.5],[48.5,41.8]],
  // East Asia and islands
  [[124.5,40],[128,41.5],[130.6,42.5]],
  [[125,38],[128.5,38.5]],
  [[109.6,1.5],[115,2.5],[117.8,4.2]],
  [[141,-2.6],[141,-9.2]]
];

// Tiny islands too small for an outline
const islandDots = [
  [-172,-14],[-150,-17.5],[-140,-9],[-160,-21],[-176,-19],[178,-18],[167,-16],[160,-9],[165,-21],[157,-8],
  [145,14],[135,7],[150,7],[173,1],[168,8],[171,-7],[-28,38],[-17,32.5],[-16,28],[-24,15.5],[-5.7,-16],
  [55.5,-21],[57.5,-20.3],[55.5,-4.5],[43.5,-12],[-90.5,-0.5],[-60,14],[-61.5,12.5],[-61,16],[-63,18],[-78,25],[-75,23],
  [-65,32],[-37,-54.3],[70,-49.3],[77,-38],[147,44.5],[150,46],[154,49],[178,52],[172,53],[-160,21.5]
];

const sphere = { type: "Sphere" };

// Robinson projection, raw form with linear lookup between table rows
function robinsonRaw(lambda, phi) {
    const deg = Math.min(Math.abs(phi) * 180 / Math.PI, 90);
    const i = Math.min(Math.floor(deg / 5), 17);
    const t = deg / 5 - i;
    const plen = robinsonPlen[i] + (robinsonPlen[i + 1] - robinsonPlen[i]) * t;
    const pdfe = robinsonPdfe[i] + (robinsonPdfe[i + 1] - robinsonPdfe[i]) * t;
    return [0.8487 * lambda * plen, 1.3523 * pdfe * Math.sign(phi)];
}

const projection = d3.geoProjection(robinsonRaw)
    .scale(230.3)
    .translate([628, 452])
    .precision(0.3);
const geoPath = d3.geoPath(projection);

const svg = d3.select("#map");
svg.append("rect").attr("width", 1256).attr("height", 878).attr("fill", "#0d1137");

// Rings must wind the small way round for d3.geo
function polygon(ring) {
    const closed = [...ring, ring[0]];
    const feature = { type: "Polygon", coordinates: [closed] };
    if (d3.geoArea(feature) > 2 * Math.PI) feature.coordinates = [closed.slice().reverse()];
    return feature;
}

const color = d3.scaleThreshold()
    .domain(binEdges.slice(1, -1))
    .range(binColors);

// Ocean
svg.append("path")
    .datum(sphere)
    .attr("d", geoPath)
    .attr("fill", "#8aa7cb")
    .attr("stroke", "#000")
    .attr("stroke-width", 2.5);

// Land
const landFeatures = landOutlines.map(polygon);
const landD = landFeatures.map(geoPath).join("");
svg.append("clipPath").attr("id", "land").append("path").attr("d", landD);
svg.append("path").attr("d", landD).attr("fill", binColors[0]);

// Heat patches, smoothed and clipped to the land
const patchLine = d3.line()
    .x(d => projection(d)[0])
    .y(d => projection(d)[1])
    .curve(d3.curveCatmullRomClosed.alpha(0.5));

const patches = [...arcticPatches, ...americaPatches, ...africaPatches, ...eurasiaPatches, ...oceaniaPatches];
svg.append("g")
    .attr("clip-path", "url(#land)")
    .selectAll("path")
    .data(patches)
    .join("path")
    .attr("d", d => patchLine(d[1]))
    .attr("fill", d => color(d[0]));

// Lakes
svg.append("g")
    .selectAll("path")
    .data(lakes)
    .join("path")
    .attr("d", d => geoPath(polygon(d)))
    .attr("fill", "#8aa7cb");

// Coast and borders
svg.append("path")
    .attr("d", landD)
    .attr("fill", "none")
    .attr("stroke", "#1a1a2a")
    .attr("stroke-opacity", 0.55)
    .attr("stroke-width", 0.5);

svg.append("path")
    .datum({ type: "MultiLineString", coordinates: borderLines })
    .attr("d", geoPath)
    .attr("fill", "none")
    .attr("stroke", "#1c1c22")
    .attr("stroke-width", 1.1);

svg.append("g")
    .selectAll("circle")
    .data(islandDots)
    .join("circle")
    .attr("cx", d => projection(d)[0])
    .attr("cy", d => projection(d)[1])
    .attr("r", 0.7)
    .attr("fill", "#30303c");

// Title
svg.append("text")
    .attr("x", 621).attr("y", 73)
    .attr("text-anchor", "middle")
    .attr("fill", "#fff")
    .style("font-size", "61px")
    .style("font-weight", 700)
    .text("Days with CSI at 3 or higher");

svg.append("text")
    .attr("x", 612).attr("y", 120)
    .attr("text-anchor", "middle")
    .attr("fill", "#c4c7d4")
    .style("font-size", "38px")
    .text("June - August 2023");

// Colour bar
const barX = d3.scalePoint().domain(binEdges).range([249, 998]);
svg.append("g")
    .selectAll("rect")
    .data(binEdges.slice(0, -1))
    .join("rect")
    .attr("x", d => barX(d))
    .attr("y", 778)
    .attr("width", (d, i) => barX(binEdges[i + 1]) - barX(d))
    .attr("height", 34)
    .attr("fill", d => color(d));

const barAxis = svg.append("g")
    .attr("transform", "translate(0,812)")
    .call(d3.axisBottom(barX).tickSize(0).tickPadding(23));
barAxis.select(".domain").remove();
barAxis.selectAll("text")
    .attr("fill", "#c4c7d4")
    .style("font-family", "Inter")
    .style("font-size", "28px");

svg.append("text")
    .attr("x", 1024).attr("y", 856)
    .attr("fill", "#c4c7d4")
    .style("font-size", "29px")
    .text("days");
</script>
</body>
</html>
